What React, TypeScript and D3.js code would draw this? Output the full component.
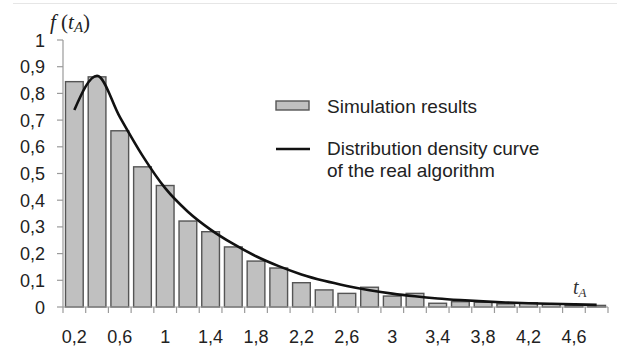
import React, { useRef, useEffect } from "react";
import * as d3 from "d3";

// categories (t_A) and simulated frequencies
const categories = [0.2, 0.4, 0.6, 0.8, 1.0, 1.2, 1.4, 1.6, 1.8, 2.0, 2.2, 2.4, 2.6, 2.8, 3.0, 3.2, 3.4, 3.6, 3.8, 4.0, 4.2, 4.4, 4.6, 4.8];
const simValues = [0.844, 0.862, 0.66, 0.525, 0.455, 0.322, 0.282, 0.225, 0.172, 0.146, 0.091, 0.064, 0.051, 0.074, 0.041, 0.051, 0.014, 0.02, 0.018, 0.012, 0.016, 0.01, 0.006, 0.006];
// density curve of the real algorithm, read at category centres
const curveValues = [0.738, 0.866, 0.712, 0.567, 0.445, 0.357, 0.29, 0.236, 0.19, 0.153, 0.122, 0.098, 0.079, 0.063, 0.05, 0.04, 0.032, 0.026, 0.021, 0.017, 0.014, 0.012, 0.01, 0.008];
const yTicks = [0, 0.1, 0.2, 0.3, 0.4, 0.5, 0.6, 0.7, 0.8, 0.9, 1];
const xLabelEvery = 2;

const fmt = (v: number) => String(+v.toFixed(1)).replace(".", ",");

export default function App() {
    const ref = useRef<SVGSVGElement | null>(null);

    useEffect(() => {
        if (!ref.current) return;
        const svg = d3.select(ref.current);
        svg.selectAll("*").remove();

        const W = 617, H = 351;
        const margin = { top: 40, right: 9, bottom: 44, left: 63 }; // plot area 63..608 x 40..307
        const font = "'Liberation Sans', Arial, sans-serif";
        const axisColor = "#9a9a9a";

        svg.attr("width", W).attr("height", H);

        // faint line on top of the picture
        svg.append("line")
            .attr("x1", 13).attr("x2", W).attr("y1", 3.5).attr("y2", 3.5)
            .style("stroke", "#e6e6e6").style("stroke-width", 1);

        const x = d3.scaleBand<number>()
            .domain(categories)
            .range([margin.left, W - margin.right])
            .paddingInner(0.22)
            .paddingOuter(0.11);

        const y = d3.scaleLinear()
            .domain([0, 1])
            .range([H - margin.bottom, margin.top]);

        const step = x.step();
        const x0 = margin.left;
        const x1 = W - margin.right;

        // bars
        svg.append("g")
            .selectAll("rect")
            .data(categories)
            .enter()
            .append("rect")
            .attr("x", (d) => x(d)!)
            .attr("y", (d, i) => y(simValues[i]))
            .attr("width", x.bandwidth())
            .attr("height", (d, i) => y(0) - y(simValues[i]))
            .style("fill", "#c0c0c0")
            .style("stroke", "#555")
            .style("stroke-width", 1.4);

        // y axis
        const ya = svg.append("g");
        ya.append("line")
            .attr("x1", x0).attr("x2", x0)
            .attr("y1", y(1)).attr("y2", y(0))
            .style("stroke", axisColor).style("stroke-width", 1.2);
        ya.selectAll(".ytick")
            .data(yTicks)
            .enter()
            .append("line")
            .attr("x1", x0 - 6).attr("x2", x0)
            .attr("y1", (d) => y(d)).attr("y2", (d) => y(d))
            .style("stroke", axisColor).style("stroke-width", 1.2);
        ya.selectAll(".ylab")
            .data(yTicks)
            .enter()
            .append("text")
            .attr("x", 45)
            .attr("y", (d) => y(d) + 6.5)
            .attr("text-anchor", "end")
            .style("font-family", font)
            .style("font-size", "18px")
            .style("fill", "#222")
            .text((d) => fmt(d));

        // x axis
        const xa = svg.append("g");
        xa.append("line")
            .attr("x1", x0).attr("x2", x1)
            .attr("y1", y(0)).attr("y2", y(0))
            .style("stroke", axisColor).style("stroke-width", 1.2);
        xa.selectAll(".xtick")
            .data(d3.range(categories.length + 1))
            .enter()
            .append("line")
            .attr("x1", (i) => x0 + i * step).attr("x2", (i) => x0 + i * step)
            .attr("y1", y(0)).attr("y2", y(0) + 6)
            .style("stroke", axisColor).style("stroke-width", 1.2);
        xa.selectAll(".xlab")
            .data(categories.filter((d, i) => i % xLabelEvery === 0))
            .enter()
            .append("text")
            .attr("x", (d) => x(d)! + x.bandwidth() / 2)
            .attr("y", 343)
            .attr("text-anchor", "middle")
            .style("font-family", font)
            .style("font-size", "18px")
            .style("fill", "#222")
            .text((d) => fmt(d));

        // density curve
        const line = d3.line<number>()
            .x((d, i) => x(categories[i])! + x.bandwidth() / 2)
            .y((d) => y(d))
            .curve(d3.curveMonotoneX);
        svg.append("path")
            .datum(curveValues)
            .attr("d", line)
            .style("fill", "none")
            .style("stroke", "#111")
            .style("stroke-width", 2.6);

        // axis titles
        const serif = "'Liberation Serif', 'Times New Roman', serif";
        const yt = svg.append("text")
            .attr("x", 50).attr("y", 29)
            .style("font-family", serif)
            .style("font-size", "21px")
            .style("fill", "#222");
        yt.append("tspan").style("font-style", "italic").text("f");
        yt.append("tspan").text(" (");
        yt.append("tspan").style("font-style", "italic").text("t");
        yt.append("tspan").style("font-style", "italic").style("font-size", "15px").attr("dy", 3).text("A");
        yt.append("tspan").attr("dy", -3).text(")");

        const xt = svg.append("text")
            .attr("x", 573).attr("y", 294)
            .style("font-family", serif)
            .style("font-size", "20px")
            .style("fill", "#333");
        xt.append("tspan").style("font-style", "italic").text("t");
        xt.append("tspan").style("font-style", "italic").style("font-size", "13px").attr("dy", 3).text("A");

        // legend
        const lg = svg.append("g");
        lg.append("rect")
            .attr("x", 276).attr("y", 101).attr("width", 33).attr("height", 9)
            .style("fill", "#c0c0c0").style("stroke", "#555").style("stroke-width", 1.4);
        lg.append("line")
            .attr("x1", 276).attr("x2", 310).attr("y1", 149).attr("y2", 149)
            .style("stroke", "#111").style("stroke-width", 2.6);
        const legendText = [
            { t: "Simulation results", y: 113 },
            { t: "Distribution density curve", y: 155 },
            { t: "of the real algorithm", y: 177 },
        ];
        lg.selectAll(".ltxt")
            .data(legendText)
            .enter()
            .append("text")
            .attr("x", 327)
            .attr("y", (d) => d.y)
            .style("font-family", font)
            .style("font-size", "19px")
            .style("fill", "#222")
            .text((d) => d.t);
    }, []);

    return (
        <div style={{ position: "absolute", left: 0, top: 0 }}>
            <svg ref={ref} style={{ display: "block", background: "#fff" }} />
        </div>
    );
}
